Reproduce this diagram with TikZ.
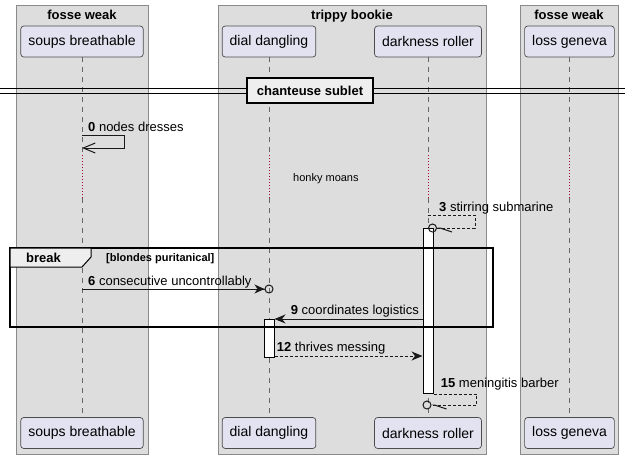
\documentclass[tikz,border=0pt]{standalone}
\usepackage{fontspec}
\setmainfont{Liberation Sans}
\usetikzlibrary{arrows.meta}
\definecolor{grpgrey}{HTML}{DDDDDD}
\definecolor{grpline}{HTML}{8A8A8A}
\definecolor{partfill}{HTML}{E2E2F0}
\definecolor{delayred}{HTML}{A80036}
\definecolor{tabfill}{HTML}{EEEEEE}
\tikzset{
  grpbox/.style={fill=grpgrey, draw=grpline, line width=0.8pt},
  grptitle/.style={anchor=base, inner sep=0pt, font=\fontsize{13}{15}\selectfont\bfseries},
  part/.style={draw=black!70, fill=partfill, rounded corners=3pt, line width=0.7pt,
    minimum height=31pt, inner xsep=7.5pt, font=\fontsize{14}{16}\selectfont},
  lifeline/.style={draw=black!60, line width=0.8pt, dash pattern=on 5pt off 5pt},
  delayline/.style={draw=delayred, line width=1pt, dash pattern=on 1pt off 2pt},
  actbar/.style={draw=black, fill=white, line width=1pt, minimum width=10pt, inner sep=0pt},
  msg/.style={draw=black!90, line width=1pt},
  reply/.style={msg, dash pattern=on 3pt off 2pt},
  msgtxt/.style={anchor=base west, inner sep=0pt, font=\fontsize{13}{15}\selectfont},
  frame/.style={draw=black, line width=1.5pt},
  divbox/.style={draw=black, line width=2pt, fill=tabfill, minimum width=126pt,
    minimum height=25pt, font=\fontsize{13}{15}\selectfont\bfseries}
}
\begin{document}
\begin{tikzpicture}[x=1pt, y=-1pt,
  fill arrow/.style={-{Stealth[length=11pt, width=9pt, inset=3.5pt]}}]
  \useasboundingbox (0,0) rectangle (625,459);
  % groups
  \draw[grpbox] (16,5) rectangle (148,454);
  \draw[grpbox] (218,5) rectangle (486,454);
  \draw[grpbox] (520,5) rectangle (618,454);
  \node[grptitle] (g1) at (82,19) {fosse weak};
  \node[grptitle] (g2) at (352,19) {trippy bookie};
  \node[grptitle] (g3) at (569,19) {fosse weak};

  % participants, top and bottom
  \node[part] (sbT) at (82,41.5) {soups breathable};
  \node[part] (ddT) at (269,41.5) {dial dangling};
  \node[part] (drT) at (428,41.5) {darkness roller};
  \node[part] (lgT) at (569.5,41.5) {loss geneva};
  \node[part] (sbB) at (82,433) {soups breathable};
  \node[part] (ddB) at (269,433) {dial dangling};
  \node[part] (drB) at (428,433) {darkness roller};
  \node[part] (lgB) at (569.5,433) {loss geneva};

  % lifelines with the delay
  \foreach \p in {sb,dd,dr,lg} {
    \draw[lifeline] (\p T.south) -- (\p T.south |- 0,155);
    \draw[delayline] (\p T.south |- 0,155) -- (\p T.south |- 0,198);
    \draw[lifeline] (\p T.south |- 0,198) -- (\p B.north);
  }

  % divider
  \draw[line width=1pt] (0,88) -- (625,88);
  \draw[line width=1pt] (0,93) -- (625,93);
  \node[divbox] (sep) at (310,90.5) {chanteuse sublet};

  % 0: self message
  \coordinate (m0s) at (sbT.south |- 0,135);
  \coordinate (m0e) at (sbT.south |- 0,148);
  \draw[msg, -{Straight Barb[length=12pt, width=10pt]}] (m0s) -- ++(42,0) |- (m0e);
  \node[msgtxt] (t0) at (88,131) {\textbf{0} nodes dresses};

  % delay text
  \node[anchor=base west, inner sep=0pt, font=\fontsize{11}{13}\selectfont] (delay)
    at (293,181.5) {honky moans};

  % activations
  \node[actbar, minimum height=165pt, anchor=north] (drAct) at (428,228) {};
  \node[actbar, minimum height=38pt, anchor=north] (ddAct) at (269,319) {};

  % 3: self reply
  \coordinate (m3s) at (drT.south |- 0,215);
  \coordinate (m3e) at (drT.south |- 0,228);
  \draw[reply, -{Straight Barb[left, length=12pt, width=8pt] Circle[open, length=9pt]}]
    (m3s) -- ++(47,0) |- (m3e);
  \node[msgtxt] (t3) at (439,211) {\textbf{3} stirring submarine};

  % break frame
  \draw[frame] (10,248) rectangle (493,327);
  \draw[frame, line width=1pt, fill=tabfill] (10,248) -- (91,248) -- (91,257) -- (82,267)
    -- (10,267) -- cycle;
  \node[anchor=base west, inner sep=0pt, font=\fontsize{13}{15}\selectfont\bfseries] (brk)
    at (26,262.3) {break};
  \node[anchor=base west, inner sep=0pt, font=\fontsize{11}{13}\selectfont\bfseries] (cond)
    at (106,261) {[blondes puritanical]};

  % 6
  \coordinate (m6s) at (sbT.south |- 0,289);
  \coordinate (m6e) at (ddT.south |- 0,289);
  \draw[msg, shorten >=-4.5pt, -{Stealth[length=10pt, width=9pt, inset=3pt] Circle[open, length=9pt]}]
    (m6s) -- (m6e);
  \node[msgtxt] (t6) at (88,285) {\textbf{6} consecutive uncontrollably};

  % 9
  \draw[msg, fill arrow] (drAct.west |- ddAct.north east) -- (ddAct.north east);
  \node[msgtxt] (t9) at (290.7,314.3) {\textbf{9} coordinates logistics};

  % 12
  \draw[reply, fill arrow] (ddAct.east |- 0,356) -- (drAct.west |- 0,356);
  \node[msgtxt] (t12) at (276.7,351) {\textbf{12} thrives messing};

  % 15: self reply
  \coordinate (m15e) at (drAct.west |- 0,405);
  \draw[reply, -{Straight Barb[left, length=12pt, width=8pt] Circle[open, length=9pt]}]
    (drAct.south east) -- ++(43,0) |- (m15e);
  \node[msgtxt] (t15) at (440.7,387.3) {\textbf{15} meningitis barber};
\end{tikzpicture}
\end{document}
